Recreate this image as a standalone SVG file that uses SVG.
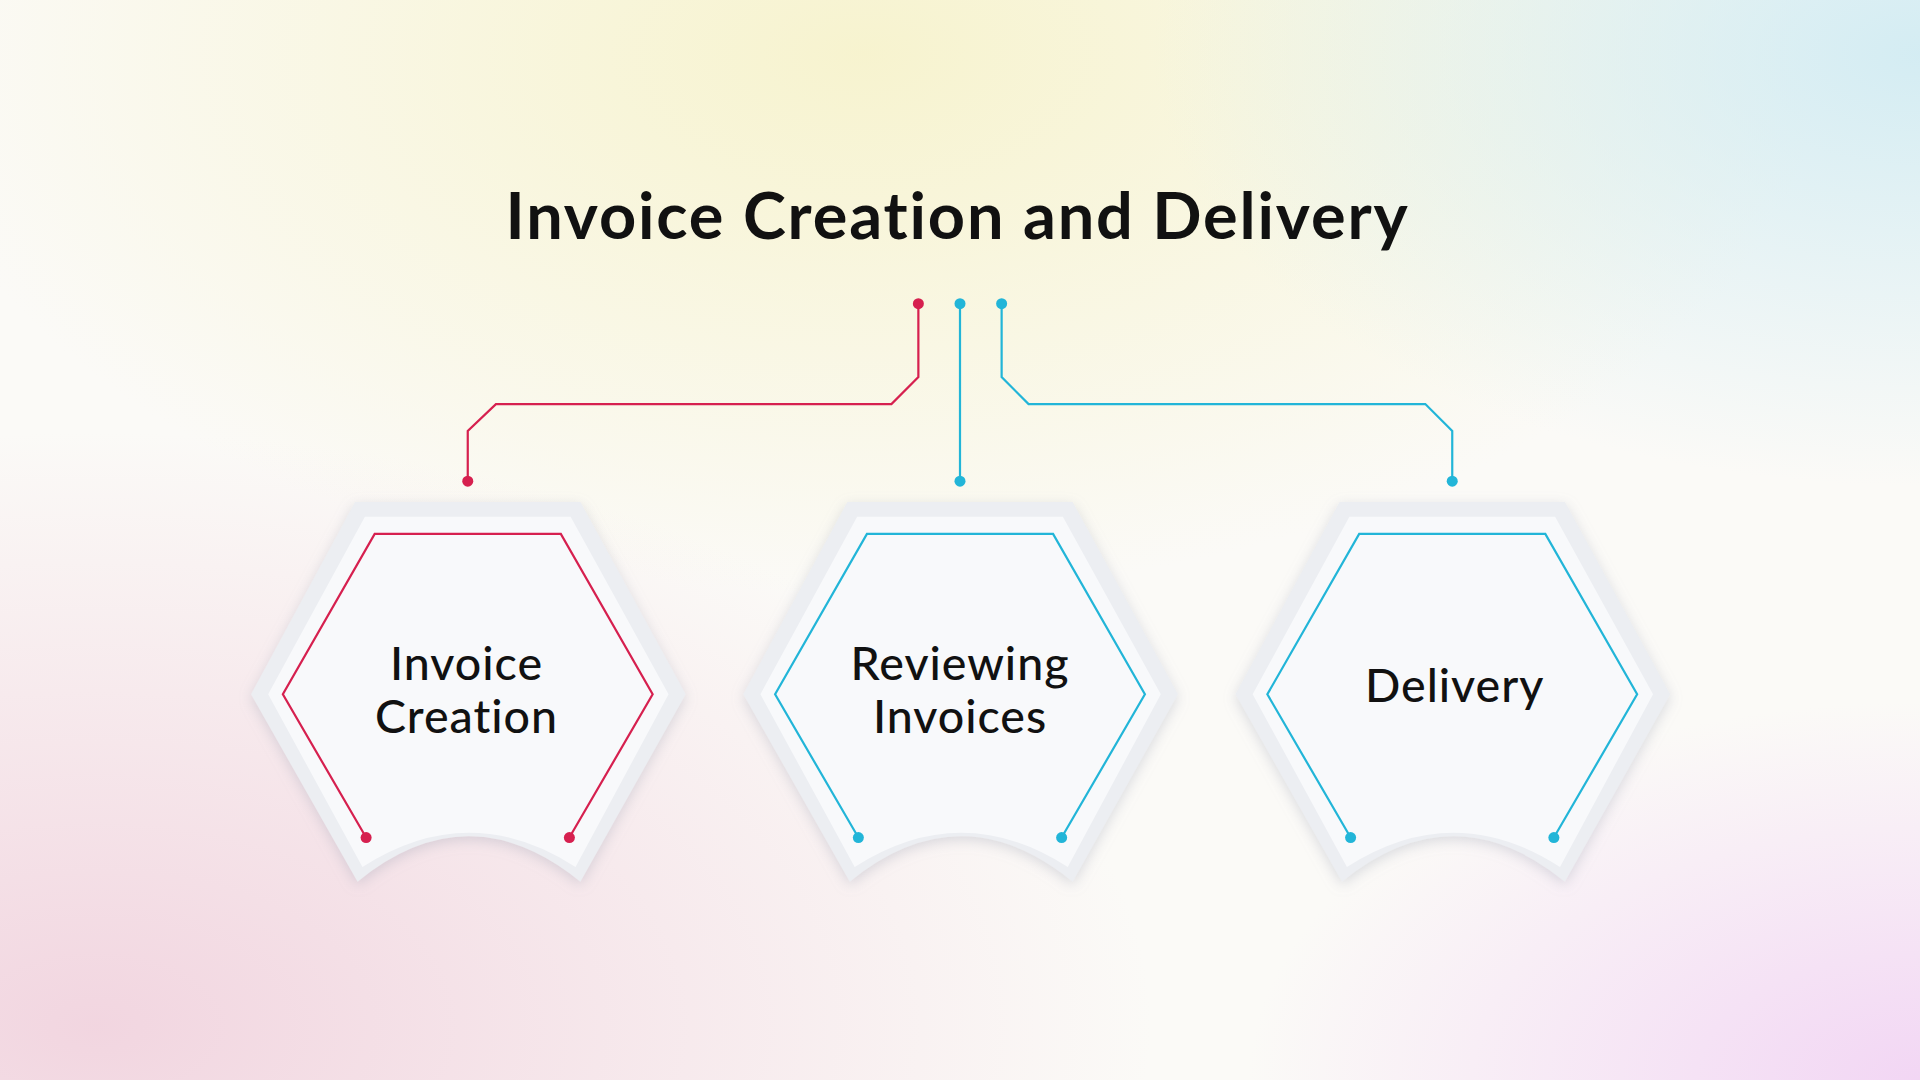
<svg xmlns="http://www.w3.org/2000/svg" width="1920" height="1080" viewBox="0 0 1920 1080">
<defs>
<radialGradient id="gy" cx="0.45" cy="0.05" r="0.5"><stop offset="0" stop-color="#f6f2c8" stop-opacity="0.85"/><stop offset="1" stop-color="#f6f2c4" stop-opacity="0"/></radialGradient>
<radialGradient id="gp" cx="0.05" cy="0.95" r="0.55"><stop offset="0" stop-color="#f0cfdc" stop-opacity="0.85"/><stop offset="1" stop-color="#f0cfdc" stop-opacity="0"/></radialGradient>
<radialGradient id="gb" cx="1" cy="0.05" r="0.4"><stop offset="0" stop-color="#cdeaf2" stop-opacity="0.85"/><stop offset="1" stop-color="#cdeaf2" stop-opacity="0"/></radialGradient>
<radialGradient id="gv" cx="1" cy="1" r="0.35"><stop offset="0" stop-color="#f2d6f4"/><stop offset="1" stop-color="#f2d6f4" stop-opacity="0"/></radialGradient>
<filter id="sh" x="-20%" y="-20%" width="140%" height="140%"><feDropShadow dx="0" dy="3" stdDeviation="5" flood-color="#9aa0b0" flood-opacity="0.35"/></filter>
<g id="hex">
<path d="M290,410 L474,410 L560,567 L474,720 Q383,646 292,720 L205,567 Z" fill="#eceef2" filter="url(#sh)"/>
<path d="M298,422 L466,422 L546,567 L470,708 Q383,652 296,708 L219,567 Z" fill="#f8f9fb"/>
</g>
</defs>
<style>
.r{stroke:#d6204f;fill:none;stroke-width:1.8}
.b{stroke:#22b5d8;fill:none;stroke-width:1.8}
.dr{fill:#d6204f}.db{fill:#22b5d8}
text{font-family:"Lato","Liberation Sans",sans-serif;fill:#111;text-anchor:middle}
.t{font-size:53px;font-weight:bold;letter-spacing:1.5px}
.l{font-size:38px;font-weight:500;letter-spacing:0.8px}
</style>
<rect width="1920" height="1080" fill="#fbfaf7"/>
<rect width="1920" height="1080" fill="url(#gy)"/>
<rect width="1920" height="1080" fill="url(#gp)"/>
<rect width="1920" height="1080" fill="url(#gb)"/>
<rect width="1920" height="1080" fill="url(#gv)"/>
<g transform="scale(1.22449)">
<text class="t" x="782" y="195">Invoice Creation and Delivery</text>
<g id="connectors">
<path class="r" d="M750,248 V308 L728,330 H405 L382,352 V393"/>
<circle class="dr" cx="750" cy="248" r="4.5"/><circle class="dr" cx="382" cy="393" r="4.5"/>
<path class="b" d="M784,248 V393"/>
<circle class="db" cx="784" cy="248" r="4.5"/><circle class="db" cx="784" cy="393" r="4.5"/>
<path class="b" d="M818,248 V308 L840,330 H1164 L1186,352 V393"/>
<circle class="db" cx="818" cy="248" r="4.5"/><circle class="db" cx="1186" cy="393" r="4.5"/>
</g>
<g id="node1">
<use href="#hex"/>
<path class="r" d="M299,684 L231,567 L306,436 L458,436 L533,567 L465,684"/>
<circle class="dr" cx="299" cy="684" r="4.5"/><circle class="dr" cx="465" cy="684" r="4.5"/>
<text class="l" x="381" y="555">Invoice</text><text class="l" x="381" y="599">Creation</text>
</g>
<g id="node2" transform="translate(402,0)">
<use href="#hex"/>
<path class="b" d="M299,684 L231,567 L306,436 L458,436 L533,567 L465,684"/>
<circle class="db" cx="299" cy="684" r="4.5"/><circle class="db" cx="465" cy="684" r="4.5"/>
<text class="l" x="382" y="555">Reviewing</text><text class="l" x="382" y="599">Invoices</text>
</g>
<g id="node3" transform="translate(804,0)">
<use href="#hex"/>
<path class="b" d="M299,684 L231,567 L306,436 L458,436 L533,567 L465,684"/>
<circle class="db" cx="299" cy="684" r="4.5"/><circle class="db" cx="465" cy="684" r="4.5"/>
<text class="l" x="384" y="573">Delivery</text>
</g>
</g>
</svg>
